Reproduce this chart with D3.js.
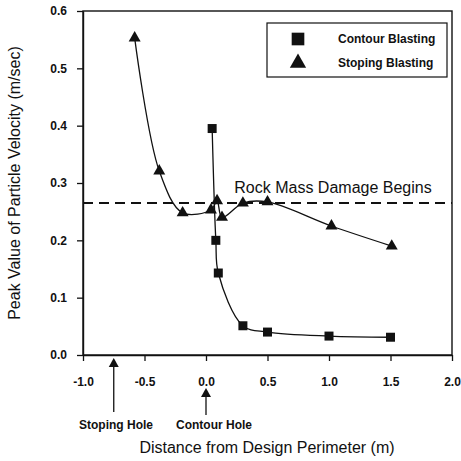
<!DOCTYPE html>
<html>
<head>
<meta charset="utf-8">
<script src="https://cdn.jsdelivr.net/npm/d3@7"></script>
<style>
  html, body { margin: 0; padding: 0; background: #fff; }
  svg { display: block; }
  text { font-family: Arial, "Liberation Sans", Helvetica, sans-serif; fill: #111; }
</style>
</head>
<body>
<svg id="chart" width="461" height="461"></svg>
<script>
// ---- data ----
const contourX = [0.05, 0.08, 0.10, 0.30, 0.50, 1.00, 1.50];
const contourY = [0.395, 0.200, 0.143, 0.051, 0.040, 0.033, 0.031];
const stopingX = [-0.58, -0.38, -0.19, 0.04, 0.09, 0.13, 0.30, 0.50, 1.02, 1.51];
const stopingY = [0.553, 0.321, 0.248, 0.253, 0.269, 0.240, 0.265, 0.267, 0.225, 0.190];
const damageThreshold = 0.265;
const xTicks = [-1.0, -0.5, 0.0, 0.5, 1.0, 1.5, 2.0];
const yTicks = [0.0, 0.1, 0.2, 0.3, 0.4, 0.5, 0.6];
const seriesNames = ["Contour Blasting", "Stoping Blasting"];
const holeLabels = ["Stoping Hole", "Contour Hole"];
const holeX = [-0.75, 0.0];
const xTitle = "Distance from Design Perimeter (m)";
const yTitle = "Peak Value of Particle Velocity (m/sec)";
const damageLabel = "Rock Mass Damage Begins";

// ---- layout ----
const W = 461, H = 461;
const m = {left: 83, right: 9, top: 11, bottom: 106};
const svg = d3.select("#chart");
const x = d3.scaleLinear().domain([-1, 2]).range([m.left, W - m.right]);
const y = d3.scaleLinear().domain([0, 0.6]).range([H - m.bottom, m.top]);

const ink = "#111";

// frame
svg.append("rect")
  .attr("x", x(-1)).attr("y", y(0.6))
  .attr("width", x(2) - x(-1)).attr("height", y(0) - y(0.6))
  .attr("fill", "none").attr("stroke", ink).attr("stroke-width", 1.4);

// axes
const fmt = d => d3.format(".1f")(d).replace("−", "-");
const xAxis = d3.axisBottom(x).tickValues(xTicks).tickFormat(fmt)
  .tickSize(6).tickPadding(16).tickSizeOuter(0);
const yAxis = d3.axisLeft(y).tickValues(yTicks).tickFormat(fmt)
  .tickSize(6).tickPadding(10).tickSizeOuter(0);

const gx = svg.append("g").attr("transform", `translate(0,${y(0)})`).call(xAxis);
const gy = svg.append("g").attr("transform", `translate(${x(-1)},0)`).call(yAxis);
[gx, gy].forEach(g => {
  g.select(".domain").attr("stroke", ink).attr("stroke-width", 1.4);
  g.selectAll(".tick line").attr("stroke", ink).attr("stroke-width", 1.3);
  g.selectAll(".tick text")
    .attr("fill", ink)
    .style("font-size", "12px").style("font-weight", "bold")
    .style("font-family", "Arial, 'Liberation Sans', sans-serif");
});

// damage line
svg.append("line")
  .attr("x1", x(-1)).attr("x2", x(2))
  .attr("y1", y(damageThreshold)).attr("y2", y(damageThreshold))
  .attr("stroke", ink).attr("stroke-width", 2)
  .attr("stroke-dasharray", "10,6");
svg.append("text")
  .attr("x", x(0.23)).attr("y", y(damageThreshold) - 10)
  .style("font-size", "16px")
  .text(damageLabel);

// curves
const line = d3.line().x(d => x(d[0])).y(d => y(d[1])).curve(d3.curveCatmullRom.alpha(0.5));
const contour = contourX.map((v, i) => [v, contourY[i]]);
const stoping = stopingX.map((v, i) => [v, stopingY[i]]);

svg.append("path").datum(stoping).attr("d", line)
  .attr("fill", "none").attr("stroke", ink).attr("stroke-width", 1.3);
svg.append("path").datum(contour).attr("d", line)
  .attr("fill", "none").attr("stroke", ink).attr("stroke-width", 1.3);

const sq = d3.symbol().type(d3.symbolSquare).size(81);
const tri = d3.symbol().type(d3.symbolTriangle).size(62);

svg.append("g").selectAll("path").data(stoping).join("path")
  .attr("d", tri).attr("fill", ink)
  .attr("transform", d => `translate(${x(d[0])},${y(d[1])})`);
svg.append("g").selectAll("path").data(contour).join("path")
  .attr("d", sq).attr("fill", ink)
  .attr("transform", d => `translate(${x(d[0])},${y(d[1])})`);

// legend
const lg = svg.append("g").attr("transform", "translate(267,23)");
lg.append("rect").attr("width", 180).attr("height", 54)
  .attr("fill", "#fff").attr("stroke", ink).attr("stroke-width", 1.2);
lg.append("path").attr("d", d3.symbol().type(d3.symbolSquare).size(160))
  .attr("transform", "translate(31,16)").attr("fill", ink);
lg.append("path").attr("d", d3.symbol().type(d3.symbolTriangle).size(115))
  .attr("transform", "translate(31,40)").attr("fill", ink);
lg.selectAll("text.lab").data(seriesNames).join("text")
  .attr("class", "lab")
  .attr("x", 71).attr("y", (d, i) => 20 + i * 24)
  .style("font-size", "12px").style("font-weight", "bold")
  .text(d => d);

// hole arrows
const arrowTop = [358, 388];
const arrowBottom = [412, 415];
holeX.forEach((hx, i) => {
  const cx = x(hx);
  svg.append("line").attr("x1", cx).attr("x2", cx)
    .attr("y1", arrowTop[i] + 6).attr("y2", arrowBottom[i])
    .attr("stroke", ink).attr("stroke-width", 1.3);
  svg.append("path")
    .attr("d", `M${cx},${arrowTop[i]} L${cx - 5},${arrowTop[i] + 9} L${cx + 5},${arrowTop[i] + 9} Z`)
    .attr("fill", ink);
});
svg.selectAll("text.hole").data(holeLabels).join("text")
  .attr("class", "hole")
  .attr("x", (d, i) => [116, 214][i]).attr("y", 429)
  .attr("text-anchor", "middle")
  .style("font-size", "12px").style("font-weight", "bold")
  .text(d => d);

// axis titles
svg.append("text")
  .attr("x", 267).attr("y", 453)
  .attr("text-anchor", "middle")
  .style("font-size", "16px")
  .text(xTitle);
svg.append("text")
  .attr("transform", `translate(20,${(y(0) + y(0.6)) / 2}) rotate(-90)`)
  .attr("text-anchor", "middle")
  .style("font-size", "16px")
  .text(yTitle);
</script>
</body>
</html>
